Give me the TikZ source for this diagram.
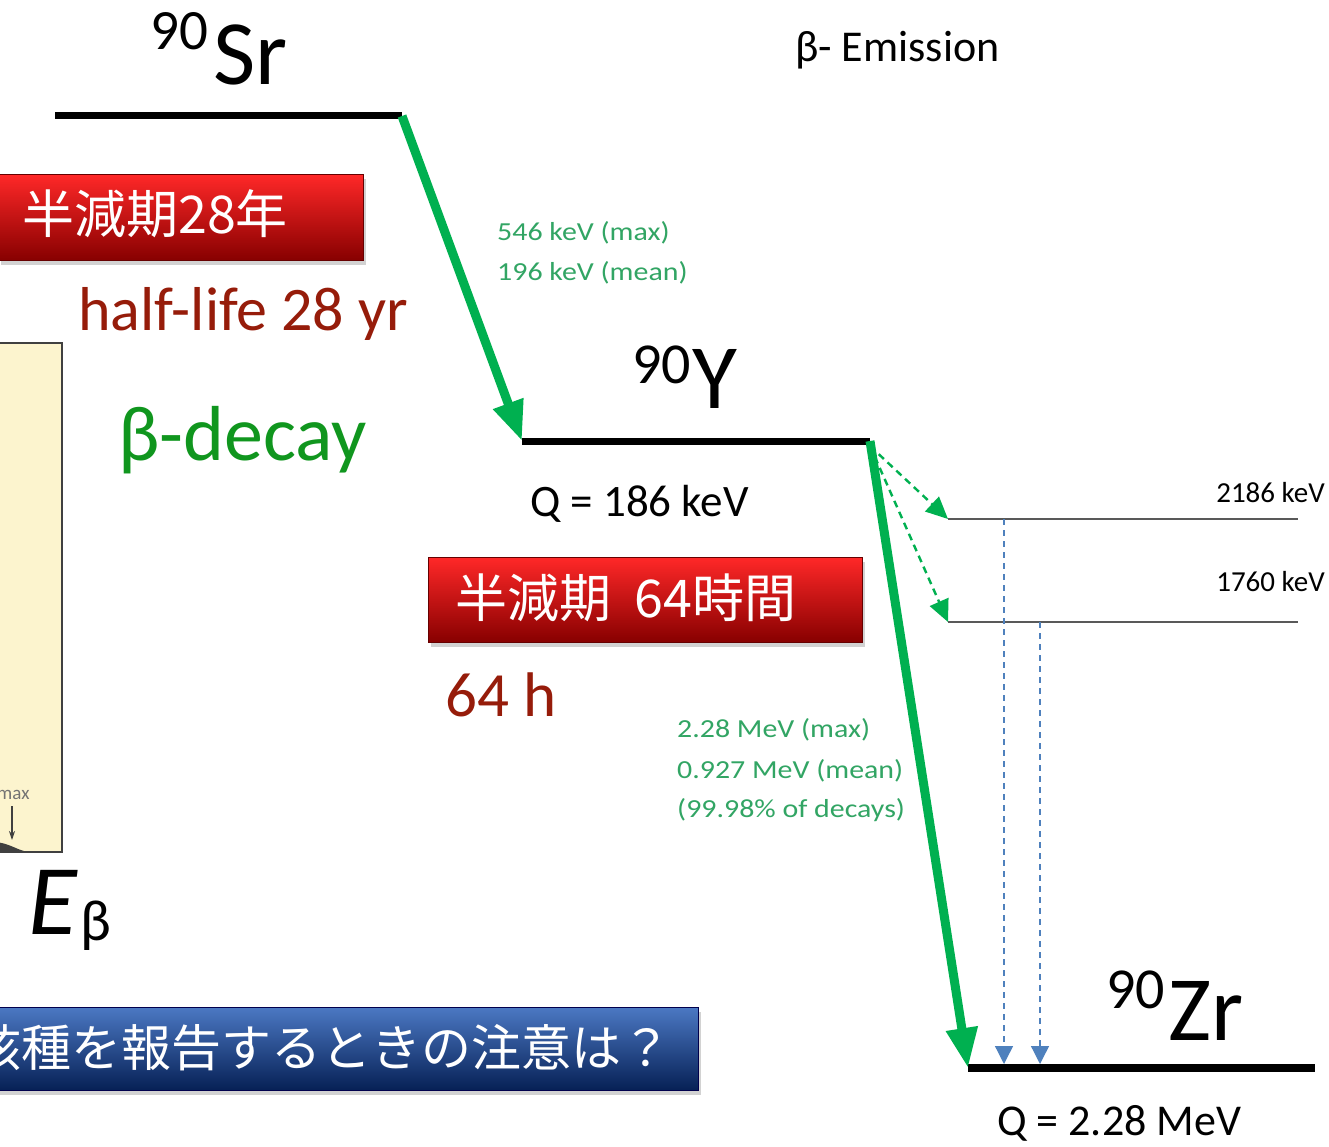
\documentclass[tikz,border=0pt]{standalone}
\usepackage{fontspec}
\usepackage{graphicx}
\setmainfont{Carlito}
\newfontfamily\cjk{Noto Sans CJK JP}
\usetikzlibrary{arrows.meta,shadows}
\definecolor{arrowgreen}{RGB}{0,176,80}
\definecolor{textgreen}{RGB}{50,165,100}
\definecolor{decaygreen}{RGB}{16,150,30}
\definecolor{darkred}{RGB}{150,28,10}
\definecolor{stateblue}{RGB}{79,129,189}
\definecolor{panelyellow}{RGB}{252,244,206}
\newcommand{\fsz}[1]{\fontsize{#1}{#1}\selectfont}
\tikzset{
  level/.style={line width=7pt, black},
  sublevel/.style={line width=1.6pt, black!65},
  bigarrow/.style={line width=9pt, arrowgreen, -{Triangle[length=40pt,width=30pt]}},
  branch/.style={line width=2.4pt, arrowgreen, dash pattern=on 7pt off 5pt, -{Triangle[length=22pt,width=20pt]}},
  gamma/.style={line width=1.3pt, stateblue, dash pattern=on 6pt off 5pt, -{Triangle[length=18pt,width=18pt]}},
  txt/.style={inner sep=0pt, anchor=base west},
  redbox/.style={anchor=north west, inner sep=0pt, draw=red!40!black, line width=0.6pt,
    top color={rgb,255:red,255;green,40;blue,40}, middle color={rgb,255:red,220;green,0;blue,0},
    bottom color={rgb,255:red,135;green,0;blue,0},
    drop shadow={shadow xshift=3pt, shadow yshift=-5pt, opacity=0.35}},
  bluebox/.style={anchor=north west, inner sep=0pt, draw=blue!30!black, line width=0.6pt,
    top color={rgb,255:red,75;green,120;blue,195}, middle color={rgb,255:red,20;green,62;blue,140},
    bottom color={rgb,255:red,6;green,32;blue,85},
    drop shadow={shadow xshift=3pt, shadow yshift=-5pt, opacity=0.35}},
}
\begin{document}
\begin{tikzpicture}[x=1pt,y=-1pt]
\useasboundingbox (0,0) rectangle (1329,1147);
\clip (0,0) rectangle (1329,1147);
\fill[white] (0,0) rectangle (1329,1147);

% left panel (cropped spectrum image)
\filldraw[fill=panelyellow, draw=black!75, line width=2pt] (-5,343) rectangle (62,852);
\fill[black!75] (-5,842) .. controls (8,843) and (16,849) .. (24,851) -- (-5,851) -- cycle;
\node[txt, text=black!55] (maxlbl) at (-3,799) {\fsz{19}max};
\coordinate (maxtop) at (12,806);
\coordinate (maxbot) at (12,840);
\draw[black!75, line width=1.2pt, -{Stealth[length=9pt,width=6pt]}] (maxtop) -- (maxbot);
\node[txt] (ebeta) at (28,934) {\fsz{100}\itshape E};
\node[txt] (ebetasub) at (80,940) {\fsz{58}β};

% energy levels
\coordinate (srL) at (55,116);  \coordinate (srR) at (402,116);
\coordinate (yL) at (522,441);  \coordinate (yR) at (870,441);
\coordinate (zrL) at (968,1068); \coordinate (zrR) at (1315,1068);
\coordinate (aL) at (948,519);  \coordinate (aR) at (1298,519);
\coordinate (bL) at (948,622);  \coordinate (bR) at (1298,622);
\draw[level] (srL) -- (srR);
\draw[level] (yL) -- (yR);
\draw[level, line width=8pt] (zrL) -- (zrR);
\draw[sublevel] (aL) -- (aR);
\draw[sublevel] (bL) -- (bR);

% gamma transitions
\coordinate (g1t) at (1004,519); \coordinate (g1b) at (1004,1064);
\coordinate (g2t) at (1040,622); \coordinate (g2b) at (1040,1064);
\draw[gamma] (g1t) -- (g1b);
\draw[gamma] (g2t) -- (g2b);

% beta arrows
\coordinate (yRs) at (870,446);
\draw[bigarrow] (srR) -- (yL);
\draw[branch] (yRs) -- (aL);
\draw[branch] (yRs) -- (bL);
\draw[bigarrow] (yR) -- (zrL);

% nuclide labels
\node[txt] (sr90) at (150,50) {\fsz{57}90};
\node[txt] (sr) at (213,85) {\fsz{92}Sr};
\node[txt] (y90) at (632,383) {\fsz{58}90};
\node[txt] (yy) at (692,408) {\fsz{92}Y};
\node[txt] (zr90) at (1106,1008) {\fsz{58}90};
\node[txt] (zr) at (1168,1040) {\fsz{92}Zr};
\node[txt] (emis) at (795,62) {\fsz{44}β- Emission};
\node[txt] (qy) at (530,516) {\fsz{45}Q = 186 keV};
\node[txt] (qzr) at (997,1135) {\fsz{44}Q = 2.28 MeV};
\node[inner sep=0pt, anchor=base east] (la) at (1325,502) {\fsz{29}2186 keV};
\node[inner sep=0pt, anchor=base east] (lb) at (1325,591) {\fsz{29}1760 keV};

% green energy texts
\node[txt, text=textgreen] (e1) at (497,241) {\fsz{26}\scalebox{1.15}[1]{546 keV (max)}};
\node[txt, text=textgreen] (e2) at (497,281) {\fsz{26}\scalebox{1.15}[1]{196 keV (mean)}};
\node[txt, text=textgreen] (e3) at (677,737) {\fsz{26}\scalebox{1.15}[1]{2.28 MeV (max)}};
\node[txt, text=textgreen] (e4) at (677,778) {\fsz{26}\scalebox{1.15}[1]{0.927 MeV (mean)}};
\node[txt, text=textgreen] (e5) at (677,817) {\fsz{26}\scalebox{1.15}[1]{(99.98\% of decays)}};

% half-life annotations
\node[redbox, minimum width=365pt, minimum height=86pt] (rb1) at (-2,174) {};
\node[txt, text=white] (rb1t) at (22,234) {\cjk\fsz{52}半減期28年};
\node[txt, text=darkred] (hl) at (78,330) {\fsz{62}half-life 28 yr};
\node[txt, text=decaygreen] (bd) at (118,460) {\fsz{78}β-decay};
\node[redbox, minimum width=434pt, minimum height=85pt] (rb2) at (428,557) {};
\node[txt, text=white] (rb2t) at (455,617) {\cjk\fsz{52}半減期\hspace{0.45em}64時間};
\node[txt, text=darkred] (h64) at (445,716) {\fsz{63}64 h};

% bottom question box
\node[bluebox, minimum width=702pt, minimum height=83pt] (bb) at (-4,1007) {};
\node[inner sep=0pt, anchor=base east, text=white] (bbt) at (672,1066) {\cjk\fsz{50}核種を報告するときの注意は？};
\end{tikzpicture}
\end{document}
